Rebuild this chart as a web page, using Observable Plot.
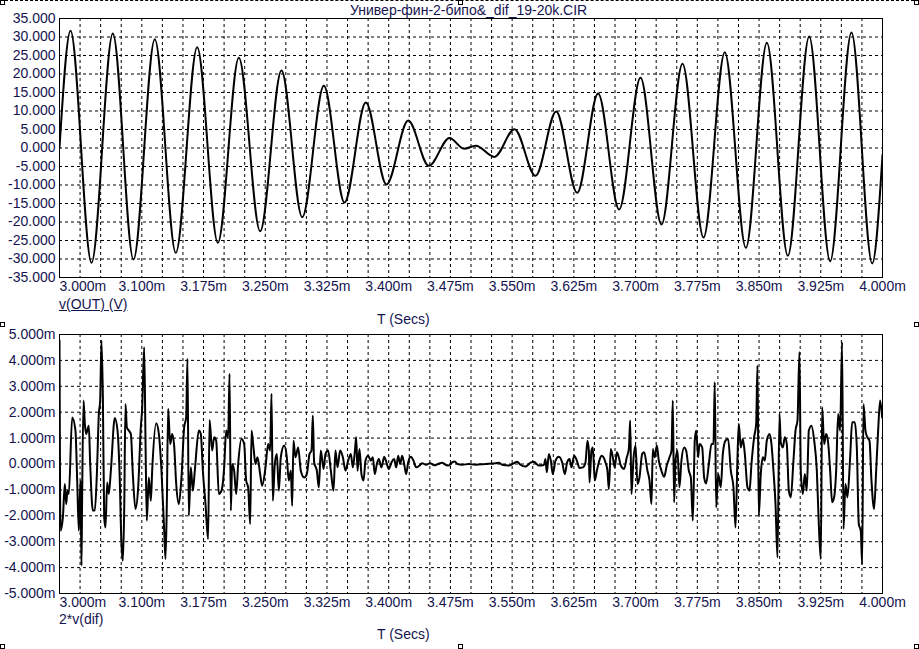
<!DOCTYPE html>
<html>
<head>
<meta charset="utf-8">
<script src="https://cdn.jsdelivr.net/npm/d3@7"></script>
<script src="https://cdn.jsdelivr.net/npm/@observablehq/plot@0.6"></script>
<style>
  html, body { margin: 0; padding: 0; background: #fff; }
  #wrap { position: relative; width: 919px; height: 649px; overflow: hidden; background: #fff;
          font-family: "Liberation Sans", Arial, sans-serif; color: #141450; }
  .lbl { position: absolute; font-size: 14px; line-height: 16px; white-space: nowrap; }
  .h { position: absolute; width: 3px; height: 3px; border: 1px solid #000; background: #fff; }
  #topline { position: absolute; left: 0; top: 0; width: 919px; height: 0; border-top: 1px dashed #000; }
  .pl { position: absolute; left: 0; }
</style>
</head>
<body>
<div id="wrap">
  <div id="topline"></div>
  <div class="h" style="left:0;top:0"></div>
  <div class="h" style="left:458px;top:0"></div>
  <div class="h" style="left:914px;top:0"></div>
  <div class="h" style="left:0;top:322px"></div>
  <div class="h" style="left:914px;top:322px"></div>
  <div class="h" style="left:0;top:644px"></div>
  <div class="h" style="left:458px;top:644px"></div>
  <div class="h" style="left:914px;top:644px"></div>
  <div id="top" class="pl" style="top:0"></div>
  <div id="bot" class="pl" style="top:320px"></div>
  <div class="lbl" style="left:350px;top:2px">Универ-фин-2-бипо&amp;_dif_19-20k.CIR</div>
  <div class="lbl" style="left:59px;top:296px;text-decoration:underline">v(OUT) (V)</div>
  <div class="lbl" style="left:377px;top:311px">T (Secs)</div>
  <div class="lbl" style="left:59px;top:611px">2*v(dif)</div>
  <div class="lbl" style="left:377px;top:626px">T (Secs)</div>
</div>
<script>
// ---- data: v(OUT) (V), extrema ----
const outT = [3.0000,3.0134,3.0389,3.0648,3.0899,3.1158,3.1413,3.1673,3.1924,3.2179,3.2438,3.2697,3.2949,3.3212,3.3463,3.3722,3.3973,3.4237,3.4488,3.4739,3.4915,3.5058,3.5285,3.5529,3.5784,3.6035,3.6290,3.6545,3.6800,3.7060,3.7315,3.7570,3.7825,3.8084,3.8340,3.8595,3.8850,3.9109,3.9364,3.9623,3.9875,4.0000];
const outV = [0,31.67,-31.04,30.95,-30.14,29.41,-28.33,27.25,-25.63,24.37,-22.48,20.95,-18.69,16.80,-14.73,12.30,-9.86,7.43,-4.82,2.7,-0.2,0.6,-2.4,5.09,-7.52,9.86,-12.12,14.73,-16.62,18.96,-20.68,22.75,-24.19,25.90,-26.98,28.42,-29.14,30.14,-30.59,31.22,-31.20,-1.9];

// ---- data: 2*v(dif) (mV) ----
const difT = [3.0000,3.0012,3.0041,3.0065,3.0081,3.0097,3.0113,3.0154,3.0194,3.0215,3.0235,3.0255,3.0267,3.0275,3.0292,3.0308,3.0324,3.0356,3.0373,3.0405,3.0429,3.0454,3.0478,3.0494,3.0510,3.0527,3.0543,3.0559,3.0579,3.0599,3.0624,3.0672,3.0705,3.0729,3.0753,3.0770,3.0786,3.0802,3.0818,3.0842,3.0867,3.0891,3.0923,3.0956,3.0988,3.1004,3.1029,3.1045,3.1061,3.1085,3.1110,3.1126,3.1175,3.1207,3.1239,3.1272,3.1288,3.1304,3.1320,3.1345,3.1369,3.1393,3.1418,3.1450,3.1482,3.1515,3.1539,3.1555,3.1571,3.1596,3.1620,3.1644,3.1693,3.1717,3.1742,3.1774,3.1806,3.1823,3.1855,3.1879,3.1904,3.1936,3.1968,3.2001,3.2025,3.2049,3.2066,3.2082,3.2098,3.2122,3.2147,3.2171,3.2211,3.2244,3.2268,3.2292,3.2317,3.2333,3.2357,3.2381,3.2406,3.2438,3.2462,3.2503,3.2535,3.2560,3.2576,3.2592,3.2616,3.2641,3.2665,3.2689,3.2730,3.2762,3.2786,3.2811,3.2827,3.2843,3.2867,3.2900,3.2932,3.2973,3.3005,3.3038,3.3062,3.3078,3.3094,3.3127,3.3151,3.3175,3.3208,3.3232,3.3264,3.3297,3.3329,3.3353,3.3378,3.3410,3.3443,3.3475,3.3507,3.3540,3.3564,3.3588,3.3605,3.3621,3.3645,3.3669,3.3694,3.3718,3.3750,3.3783,3.3807,3.3831,3.3856,3.3880,3.3912,3.3945,3.3969,3.4001,3.4034,3.4066,3.4091,3.4115,3.4139,3.4163,3.4188,3.4212,3.4236,3.4269,3.4301,3.4334,3.4374,3.4406,3.4455,3.4504,3.4552,3.4601,3.4649,3.4690,3.4730,3.4771,3.4803,3.4836,3.4892,3.4973,
3.5055,3.5176,3.5298,3.5338,3.5379,3.5459,3.5520,3.5561,3.5601,3.5662,3.5723,3.5763,3.5824,3.5885,3.5905,3.5921,3.5946,3.5970,3.5994,3.6027,3.6067,3.6108,3.6140,3.6168,3.6197,3.6221,3.6253,3.6286,3.6318,3.6359,3.6391,3.6415,3.6432,3.6440,3.6464,3.6480,3.6504,3.6529,3.6553,3.6585,3.6610,3.6634,3.6658,3.6675,3.6699,3.6723,3.6747,3.6772,3.6796,3.6820,3.6861,3.6893,3.6918,3.6934,3.6950,3.6974,3.6999,3.7023,3.7047,3.7080,3.7104,3.7144,3.7169,3.7193,3.7209,3.7233,3.7258,3.7282,3.7314,3.7347,3.7379,3.7412,3.7436,3.7452,3.7468,3.7485,3.7509,3.7533,3.7557,3.7590,3.7614,3.7647,3.7671,3.7695,3.7719,3.7736,3.7760,3.7776,3.7809,3.7833,3.7857,3.7890,3.7922,3.7946,3.7962,3.7979,3.8003,3.8035,3.8060,3.8092,3.8124,3.8157,3.8189,3.8214,3.8238,3.8254,3.8278,3.8303,3.8327,3.8359,3.8384,3.8408,3.8440,3.8465,3.8481,3.8497,3.8521,3.8546,3.8570,3.8594,3.8627,3.8651,3.8675,3.8700,3.8724,3.8748,3.8764,3.8789,3.8813,3.8837,3.8862,3.8886,3.8918,3.8943,3.8967,3.8991,3.9007,3.9032,3.9056,3.9080,3.9105,3.9137,3.9170,3.9202,3.9226,3.9250,3.9267,3.9291,3.9315,3.9339,3.9364,3.9388,3.9412,3.9437,3.9461,3.9485,3.9509,3.9526,3.9550,3.9574,3.9607,3.9631,3.9663,3.9688,3.9712,3.9736,3.9753,3.9769,3.9793,3.9817,3.9842,3.9866,3.9898,3.9923,3.9947,3.9971,3.9996];
const difV = [4.77,-2.58,-2.06,-0.77,-1.55,-1.03,-1.16,1.80,1.29,-0.64,-2.58,-0.64,-3.93,-1.29,2.45,1.55,1.16,1.48,0,-1.80,-1.80,-0.39,1.93,2.45,4.77,2.58,-2.06,-2.45,-0.71,-1.16,-0.26,1.78,1.29,-0.26,-3.09,-3.74,-1.80,2.32,1.42,1.29,1.16,-0.39,-1.74,-0.90,1.42,2.13,4.51,0.90,-2.19,-0.52,-1.42,-0.26,1.57,1.16,-0.26,-2.58,-3.67,-1.55,2.13,0.77,1.16,0.71,-0.77,-1.55,-0.52,1.42,1.80,4.06,-2.00,-0.13,-1.03,-0.26,1.29,1.16,-0.26,-1.55,-2.90,1.70,0.52,1.03,0.90,-1.16,-1.03,-0.13,1.29,1.03,3.48,-1.80,0,-0.26,-1.16,0,0.97,0.77,-0.64,-0.90,-2.32,1.29,0.64,0,0.26,-0.39,-0.84,-0.13,0.77,0.52,2.71,-1.42,0,0.39,-1.03,0.26,0.71,0.26,-0.64,-0.26,-1.61,0.90,0.26,0.64,-0.26,-0.52,-0.39,0.39,0.52,1.87,0.06,-0.26,-0.90,0.52,-0.19,0.39,0.52,-0.26,-1.03,0.52,-0.13,0.52,0.26,-0.26,0.13,0.39,-0.13,0.45,1.03,-0.26,0.58,-0.39,-0.64,0.13,0.32,0.13,0.26,-0.39,0,0.19,-0.13,0.28,0.10,-0.19,0.06,0.19,-0.13,0.32,0,0.32,0,-0.39,0.06,0.28,0.13,-0.13,-0.06,0.03,-0.03,0.03,-0.05,0,0.05,-0.03,-0.06,0.06,0.10,0,-0.03,0,
-0.03,0,0.03,0.05,-0.03,-0.06,0.03,0.09,-0.03,-0.10,0.05,0.09,-0.06,-0.04,0.19,-0.32,0.39,0.13,-0.39,0.13,0.28,0.06,-0.39,0.06,0.19,-0.13,0.32,0.13,-0.15,-0.13,0.06,0.90,0.52,-0.71,0.52,0.64,-0.64,-0.26,0.06,0.32,0.26,0.06,-0.26,-0.97,0.58,0.26,-0.13,0.45,0.26,-0.06,-0.19,0.26,0.58,1.68,-1.16,0.19,0.71,-0.77,-0.52,0.39,0.45,-0.26,-0.64,-1.55,0.58,0.26,0.71,0.13,-0.26,-0.49,-0.06,0.26,0.52,2.45,-1.48,0.13,0.52,-0.90,0.13,0.64,0.52,-0.26,-0.52,-2.19,0.90,1.29,0.26,0.77,0.64,-0.52,-0.75,0,0.77,0.77,3.16,-1.68,-0.39,-0.90,0.39,0.90,0.97,-0.26,-0.90,-2.45,0.26,1.55,0.64,0.97,0.39,-0.90,-1.03,0,1.03,1.55,3.80,-2.00,-0.39,0.26,0.13,0.90,1.16,0.77,-0.26,-1.55,-3.61,1.93,0.84,0.64,1.03,0.77,-1.03,-1.29,0.13,1.29,1.68,4.32,-0.26,-1.16,-0.39,-1.03,1.29,1.48,0.90,-0.26,-2.32,-3.67,2.19,0.77,1.16,0.84,-0.26,-1.48,-1.29,-0.26,1.93,1.29,4.70,-2.51,-0.77,-1.29,0.26,1.61,1.61,0.64,-2.32,-2.58,-3.87,2.32,1.29,1.03,0.90,-0.64,-1.74,-0.26,1.29,2.45,1.80];

// ---- ticks ----
const xGrid = [3.025,3.05,3.075,3.1,3.125,3.15,3.175,3.2,3.225,3.25,3.275,3.3,3.325,3.35,3.375,3.4,3.425,3.45,3.475,3.5,3.525,3.55,3.575,3.6,3.625,3.65,3.675,3.7,3.725,3.75,3.775,3.8,3.825,3.85,3.875,3.9,3.925,3.95,3.975];
const xFirstLabel = [3.0];
const xLabels = [3.1,3.175,3.25,3.325,3.4,3.475,3.55,3.625,3.7,3.775,3.85,3.925,4.0];
const yTopTicks = [-35,-30,-25,-20,-15,-10,-5,0,5,10,15,20,25,30,35];
const yTopGrid = [-30,-25,-20,-15,-10,-5,0,5,10,15,20,25,30];
const yBotTicks = [-5,-4,-3,-2,-1,0,1,2,3,4,5];
const yBotGrid = [-4,-3,-2,-1,0,1,2,3,4];

const outData = outT.map((t, i) => ({t, v: outV[i]}));
const difData = difT.map((t, i) => ({t, v: difV[i]}));

const fmtX = d => d.toFixed(3) + "m";
const style = {fontFamily: '"Liberation Sans", Arial, sans-serif', fontSize: "14px", background: "transparent", color: "#141450", overflow: "visible"};
const dash = {stroke: "#000", strokeOpacity: 1, strokeWidth: 1, strokeDasharray: "3,3"};

function panel({height, marginTop, marginBottom, data, yDomain, yTicks, yGrid, yFmt, curve}) {
  return Plot.plot({
    width: 919, height, marginLeft: 59, marginRight: 37, marginTop, marginBottom,
    style,
    x: {domain: [3.0, 4.0]},
    y: {domain: yDomain},
    marks: [
      Plot.gridX(xGrid, dash),
      Plot.gridY(yGrid, dash),
      Plot.frame({stroke: "#000", strokeWidth: 1}),
      Plot.line(data, {x: "t", y: "v", curve, stroke: "#000", strokeWidth: 2, clip: true}),
      Plot.axisY(yTicks, {tickSize: 0, tickPadding: 4, tickFormat: yFmt, label: null, fontSize: 14}),
      Plot.axisX(xFirstLabel, {tickSize: 0, tickPadding: 4, tickFormat: fmtX, textAnchor: "start", label: null, fontSize: 14}),
      Plot.axisX(xLabels, {tickSize: 0, tickPadding: 4, tickFormat: fmtX, label: null, fontSize: 14})
    ]
  });
}

document.getElementById("top").append(panel({
  height: 320, marginTop: 18, marginBottom: 43, data: outData,
  yDomain: [-35, 35], yTicks: yTopTicks, yGrid: yTopGrid, yFmt: d => d.toFixed(3), curve: "monotone-x"
}));
document.getElementById("bot").append(panel({
  height: 329, marginTop: 14, marginBottom: 56, data: difData,
  yDomain: [-5, 5], yTicks: yBotTicks, yGrid: yBotGrid, yFmt: d => d.toFixed(3) + "m", curve: "monotone-x"
}));
</script>
</body>
</html>
